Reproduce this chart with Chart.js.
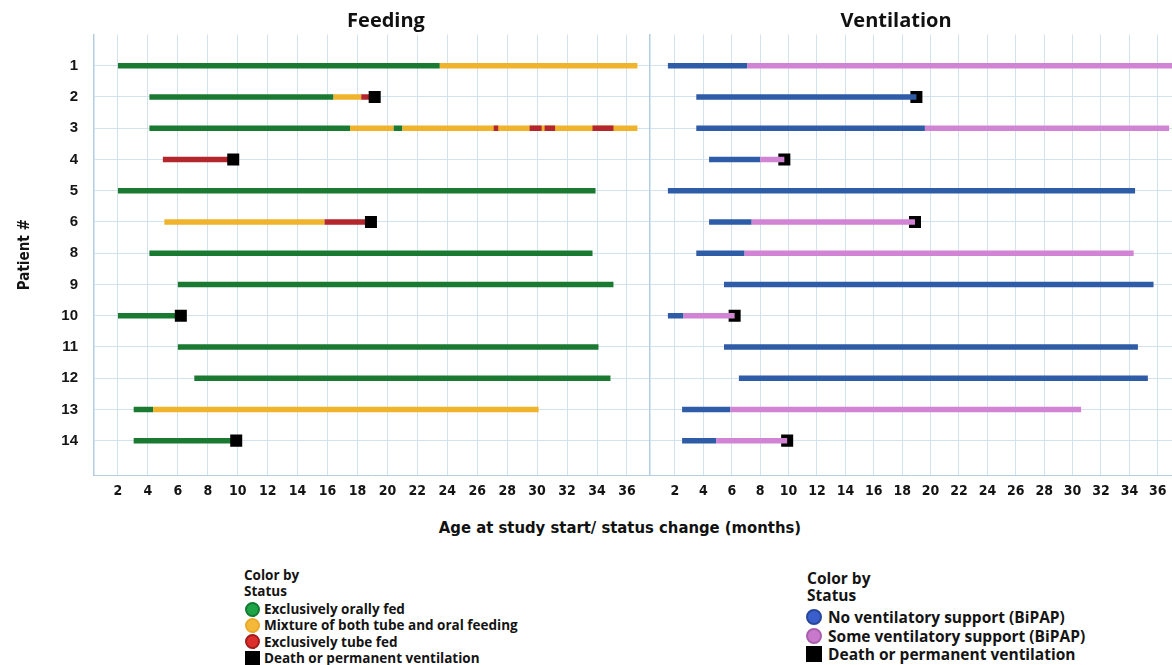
<!DOCTYPE html>
<html>
<head>
<meta charset="utf-8">
<title>Feeding and ventilation status by age</title>
<script src="https://cdn.jsdelivr.net/npm/chart.js@4.4.1/dist/chart.umd.min.js"></script>
<style>
  html, body { margin: 0; padding: 0; background: #fff; overflow: hidden; width: 1172px; height: 665px; }
  #wrap { position: relative; width: 1172px; height: 665px; }
  canvas { position: absolute; top: 0; }
  #feedCanvas { left: 0; }
  #ventCanvas { left: 640px; }
  .panel-title {
    position: absolute; top: 6px; width: 300px; line-height: 24px; text-align: center; color: #111;
    font: bold 20px 'Open Sans', 'Liberation Sans', sans-serif;
  }
  .x-title {
    position: absolute; left: 420px; width: 400px; top: 518px; line-height: 20px;
    text-align: center; color: #111;
    font: bold 16.5px 'Liberation Sans Narrow', 'DejaVu Sans Condensed', 'Liberation Sans', sans-serif;
  }
  .legend { position: absolute; font-family: 'Open Sans', 'Liberation Sans', sans-serif; font-weight: 700; color: #141414; white-space: nowrap; }
  .legend .row { position: absolute; left: 0; }
  .legend .mark { position: absolute; box-sizing: border-box; }
</style>
</head>
<body>
<div id="wrap">
  <canvas id="feedCanvas" width="650" height="510"></canvas>
  <canvas id="ventCanvas" width="532" height="510"></canvas>
  <div class="panel-title" style="left:236px">Feeding</div>
  <div class="panel-title" style="left:746px">Ventilation</div>
  <div class="x-title">Age at study start/ status change (months)</div>
  <div class="legend" id="feedLegend"></div>
  <div class="legend" id="ventLegend"></div>
</div>
<script>
// Patients shown on the vertical axis (top to bottom)
const patientIds = ['1', '2', '3', '4', '5', '6', '8', '9', '10', '11', '12', '13', '14'];
// Age ticks in months
const monthTicks = [2, 4, 6, 8, 10, 12, 14, 16, 18, 20, 22, 24, 26, 28, 30, 32, 34, 36];

// Feeding status periods: [patient, start month, end month]
const feedOral = [
  ['1', 2, 23.5], ['2', 4.1, 16.4], ['3', 4.1, 17.5], ['3', 20.4, 21.0],
  ['5', 2, 33.9], ['8', 4.1, 33.7], ['9', 6, 35.1], ['10', 2, 6.2],
  ['11', 6, 34.1], ['12', 7.1, 34.9], ['13', 3.05, 4.35], ['14', 3.05, 9.9]
];
const feedMixed = [
  ['1', 23.5, 36.7], ['2', 16.4, 18.25], ['3', 17.5, 20.4], ['3', 21.0, 36.7],
  ['6', 5.1, 15.8], ['13', 4.35, 30.1]
];
const feedTube = [
  ['2', 18.25, 19.15], ['3', 27.1, 27.4], ['3', 29.5, 30.3], ['3', 30.5, 31.2],
  ['3', 33.7, 35.1], ['4', 5.0, 9.7], ['6', 15.8, 18.9]
];
// Death or permanent ventilation: [patient, month]
const feedDeath = [['2', 19.15], ['4', 9.7], ['6', 18.9], ['10', 6.2], ['14', 9.9]];

// Ventilation status periods: [patient, start month, end month]
const ventNone = [
  ['1', 1.5, 7.1], ['2', 3.5, 19.0], ['3', 3.5, 19.6], ['4', 4.4, 8.0],
  ['5', 1.5, 34.4], ['6', 4.4, 7.4], ['8', 3.5, 6.9], ['9', 5.45, 35.7],
  ['10', 1.5, 2.6], ['11', 5.45, 34.6], ['12', 6.5, 35.3], ['13', 2.5, 5.9],
  ['14', 2.5, 4.9]
];
const ventSome = [
  ['1', 7.1, 37.2], ['3', 19.6, 36.8], ['4', 8.0, 9.7], ['6', 7.4, 18.9],
  ['8', 6.9, 34.3], ['10', 2.6, 6.2], ['13', 5.9, 30.6], ['14', 4.9, 9.9]
];
const ventDeath = [['2', 19.0], ['4', 9.7], ['6', 18.9], ['10', 6.2], ['14', 9.9]];

// Legend texts
const feedLegendLabels = ['Exclusively orally fed', 'Mixture of both tube and oral feeding', 'Exclusively tube fed', 'Death or permanent ventilation'];
const ventLegendLabels = ['No ventilatory support (BiPAP)', 'Some ventilatory support (BiPAP)', 'Death or permanent ventilation'];

const COLORS = {
  oral: '#1b7a32', mixed: '#f0b42c', tube: '#b3262c',
  none: '#2f5ca6', some: '#d184d3', death: '#000000'
};
const GRID = '#d3e2ef';
const AXIS = '#b5cde0';
const TICK_FONT = { family: "'Liberation Sans Narrow', 'DejaVu Sans Condensed', 'Liberation Sans', sans-serif", size: 14, weight: 'bold' };

function rowOf(id) { return patientIds.indexOf(id); }

// Turn a list of periods into one line dataset, with gaps between periods
function periodDataset(periods, color, order) {
  const pts = [];
  periods.forEach(([id, s, e]) => {
    const y = rowOf(id);
    pts.push({ x: s, y: y }, { x: e, y: y }, { x: e, y: null });
  });
  return {
    data: pts, showLine: true, borderColor: color, backgroundColor: color,
    borderWidth: 5.5, borderCapStyle: 'butt', pointRadius: 0, spanGaps: false, order: order
  };
}
function deathDataset(events, order) {
  return {
    data: events.map(([id, m]) => ({ x: m, y: rowOf(id) })),
    showLine: false, pointStyle: 'rect', pointRadius: 8.5,
    backgroundColor: COLORS.death, borderColor: COLORS.death, borderWidth: 0, order: order
  };
}

function baseScales(xMin, xMax, yWidth, showLabels) {
  return {
    x: {
      type: 'linear', min: xMin, max: xMax,
      afterBuildTicks: s => { s.ticks = monthTicks.map(v => ({ value: v })); },
      afterFit: s => { s.height = 35; s.paddingLeft = 0; s.paddingRight = 0; },
      ticks: { font: TICK_FONT, color: '#141414', padding: 8, autoSkip: false, maxRotation: 0 },
      grid: { color: GRID, drawTicks: false },
      border: { color: AXIS }
    },
    y: {
      type: 'linear', reverse: true, min: -1, max: 13.1,
      afterBuildTicks: s => { s.ticks = patientIds.map((_, i) => ({ value: i })); },
      afterFit: s => { s.width = yWidth; s.paddingTop = 0; s.paddingBottom = 0; },
      ticks: {
        display: showLabels, autoSkip: false, padding: 16, color: '#141414',
        font: { family: "'Liberation Sans', Arial, sans-serif", size: 15, weight: 'bold' },
        callback: (v, i) => patientIds[i]
      },
      title: {
        display: showLabels, text: 'Patient #', color: '#141414',
        font: { family: "'Liberation Sans Narrow', 'DejaVu Sans Condensed', 'Liberation Sans', sans-serif", size: 15, weight: 'bold' },
        padding: { top: 16, bottom: 0 }
      },
      grid: { color: GRID, drawTicks: false },
      border: { color: AXIS, width: 1.5 }
    }
  };
}

const chartOptions = (xMin, xMax, yWidth, showLabels) => ({
  responsive: false, animation: false, events: [],
  layout: { autoPadding: false, padding: { top: 34.5, left: 0, right: 0, bottom: 0 } },
  plugins: { legend: { display: false }, tooltip: { enabled: false } },
  scales: baseScales(xMin, xMax, yWidth, showLabels)
});

new Chart(document.getElementById('feedCanvas'), {
  type: 'scatter',
  data: {
    datasets: [
      periodDataset(feedOral, COLORS.oral, 3),
      periodDataset(feedMixed, COLORS.mixed, 2),
      periodDataset(feedTube, COLORS.tube, 1),
      deathDataset(feedDeath, 0)
    ]
  },
  options: chartOptions(0.4, 37.54, 94, true)
});

new Chart(document.getElementById('ventCanvas'), {
  type: 'scatter',
  data: {
    datasets: [
      periodDataset(ventNone, COLORS.none, 2),
      periodDataset(ventSome, COLORS.some, 1),
      deathDataset(ventDeath, 3)
    ]
  },
  options: chartOptions(0.24, 37.0, 10, false)
});

// Status legends below the panels
function buildLegend(el, cfg) {
  el.style.left = cfg.left + 'px';
  el.style.top = cfg.top + 'px';
  el.style.fontSize = cfg.size + 'px';
  const add = (text, top, indent) => {
    const r = document.createElement('div');
    r.className = 'row';
    r.style.top = top + 'px';
    r.style.left = indent + 'px';
    r.style.lineHeight = cfg.lh + 'px';
    r.textContent = text;
    el.appendChild(r);
  };
  add('Color by', 0, 0);
  add('Status', cfg.headGap, 0);
  cfg.labels.forEach((text, i) => {
    const top = cfg.itemTop + i * cfg.itemGap;
    const m = document.createElement('div');
    m.className = 'mark';
    const sz = cfg.mark;
    m.style.width = sz + 'px';
    m.style.height = sz + 'px';
    m.style.left = (cfg.markX - sz / 2) + 'px';
    m.style.top = (top + cfg.lh / 2 - sz / 2) + 'px';
    const c = cfg.colors[i];
    m.style.background = c.fill;
    if (c.shape === 'circle') {
      m.style.borderRadius = '50%';
      m.style.border = '2px solid ' + c.edge;
    }
    el.appendChild(m);
    add(text, top, cfg.textX);
  });
}

buildLegend(document.getElementById('feedLegend'), {
  left: 244, top: 567, size: 13.5, lh: 16, headGap: 16, itemTop: 34, itemGap: 16.4,
  mark: 15, markX: 8.5, textX: 20, labels: feedLegendLabels,
  colors: [
    { shape: 'circle', fill: '#1fa347', edge: '#137a31' },
    { shape: 'circle', fill: '#f5b93a', edge: '#eaa92c' },
    { shape: 'circle', fill: '#dc2f2c', edge: '#a31c1c' },
    { shape: 'square', fill: '#000' }
  ]
});

buildLegend(document.getElementById('ventLegend'), {
  left: 807, top: 569, size: 15.5, lh: 18, headGap: 17, itemTop: 39, itemGap: 18.5,
  mark: 16, markX: 7, textX: 21, labels: ventLegendLabels,
  colors: [
    { shape: 'circle', fill: '#3a5fcc', edge: '#28469c' },
    { shape: 'circle', fill: '#c879cc', edge: '#a95fae' },
    { shape: 'square', fill: '#000' }
  ]
});
</script>
</body>
</html>
